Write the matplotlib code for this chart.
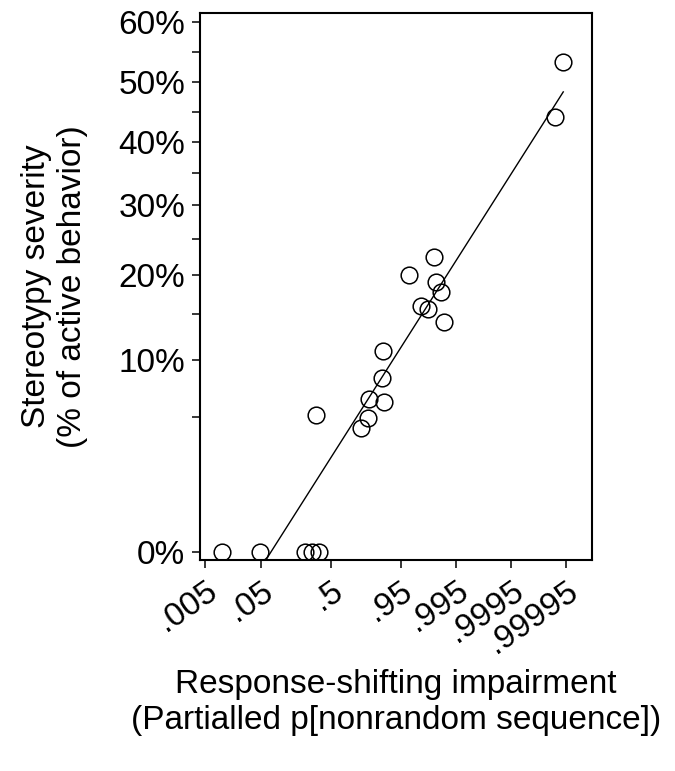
import numpy as np
import matplotlib
matplotlib.use('Agg')
import matplotlib.pyplot as plt
from matplotlib.ticker import NullLocator

plt.rcParams['font.family'] = ['Liberation Sans', 'DejaVu Sans']

# partialled p[nonrandom sequence] for each subject
impairment = [0.0101, 0.0485, 0.2531, 0.3128, 0.3792, 0.350, 0.7818, 0.826,
              0.834, 0.898, 0.904, 0.9015, 0.9639, 0.98741, 0.98827, 0.99047,
              0.97817, 0.98384, 0.99160, 0.999921, 0.999944]
# stereotypy as fraction of active behaviour
severity = [0.0, 0.0, 0.0, 0.0, 0.0, 0.0516, 0.0426, 0.0496,
            0.0638, 0.0826, 0.0619, 0.1089, 0.1994, 0.2248, 0.1909, 0.1776,
            0.1600, 0.1560, 0.1408, 0.4418, 0.5338]

# regression in transformed space: asin(sqrt(y)) = a + b*logit(x)
fit_intercept = 0.1574
fit_slope = 0.0625

x_ticks = [0.005, 0.05, 0.5, 0.95, 0.995, 0.9995, 0.99995]
x_labels = ['.005', '.05', '.5', '.95', '.995', '.9995', '.99995']
y_ticks = [0.0, 0.1, 0.2, 0.3, 0.4, 0.5, 0.6]
y_labels = ['0%', '10%', '20%', '30%', '40%', '50%', '60%']
y_minor = [0.05, 0.15, 0.25, 0.35, 0.45, 0.55]


def asin_fwd(p):
    p = np.asarray(p, dtype=float)
    return np.sign(p) * np.arcsin(np.sqrt(np.clip(np.abs(p), 0, 1)))


def asin_inv(t):
    t = np.asarray(t, dtype=float)
    return np.sign(t) * np.sin(np.clip(np.abs(t), 0, np.pi / 2)) ** 2


fig = plt.figure(figsize=(6.75, 7.71), dpi=100)
ax = fig.add_axes([200 / 675, 1 - 559.5 / 771, 391.7 / 675, 546.2 / 771])

ax.set_xscale('logit')
ax.set_yscale('function', functions=(asin_fwd, asin_inv))

ax.plot(impairment, severity, 'o', ms=12, mfc='none', mec='black', mew=1.1)

x_line = np.array([min(impairment), max(impairment)])
t_line = fit_intercept + fit_slope * np.log(x_line / (1 - x_line))
ax.plot(x_line, asin_inv(t_line), color='black', lw=1.0)

ax.set_xlim(0.00405, 0.9999831)
ax.set_ylim(-0.0001575, 0.6143)

ax.set_xticks(x_ticks)
ax.set_xticklabels(x_labels, rotation=35, ha='right', va='top', rotation_mode='anchor')
ax.xaxis.set_minor_locator(NullLocator())
ax.set_yticks(y_ticks)
ax.set_yticklabels(y_labels)
ax.set_yticks(y_minor, minor=True)

ax.tick_params(which='both', direction='out', length=5.5, width=1.1, labelsize=24)
ax.tick_params(axis='y', pad=5)
ax.tick_params(axis='x', pad=6)
for s in ax.spines.values():
    s.set_linewidth(1.5)

ax.set_xlabel('Response-shifting impairment\n(Partialled p[nonrandom sequence])',
              fontsize=24, labelpad=7)
ax.set_ylabel('Stereotypy severity\n(% of active behavior)', fontsize=24, labelpad=22)

fig.savefig('out.png', dpi=100)
